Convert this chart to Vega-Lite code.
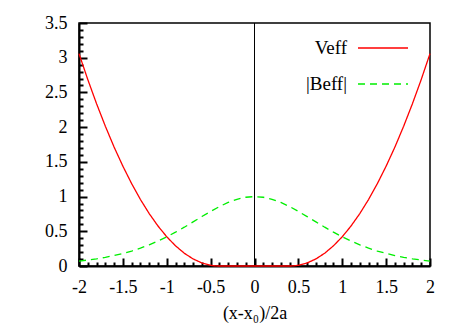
{
  "$schema": "https://vega.github.io/schema/vega-lite/v6.json",
  "autosize": "none",
  "width": 351,
  "height": 243,
  "padding": {"left": 79, "top": 23, "right": 33, "bottom": 58},
  "background": "white",
  "config": {
    "font": "Liberation Serif",
    "view": {"stroke": "black", "strokeWidth": 1.5},
    "axis": {"grid": false, "domainColor": "black", "domainWidth": 2, "tickColor": "black", "tickWidth": 2, "labelColor": "black", "labelFont": "Liberation Serif", "labelFontSize": 18, "titleFont": "Liberation Serif", "titleFontSize": 18, "titleFontWeight": "normal", "titleColor": "black"}
  },
  "datasets": {
    "curves": [
      {"x": -2.0, "y": 3.059, "series": "Veff"}, {"x": -1.9, "y": 2.686, "series": "Veff"}, {"x": -1.8, "y": 2.338, "series": "Veff"}, {"x": -1.7, "y": 2.014, "series": "Veff"}, {"x": -1.6, "y": 1.713, "series": "Veff"}, {"x": -1.5, "y": 1.438, "series": "Veff"}, {"x": -1.4, "y": 1.186, "series": "Veff"}, {"x": -1.3, "y": 0.958, "series": "Veff"}, {"x": -1.2, "y": 0.755, "series": "Veff"}, {"x": -1.1, "y": 0.576, "series": "Veff"}, {"x": -1.0, "y": 0.421, "series": "Veff"}, {"x": -0.9, "y": 0.291, "series": "Veff"}, {"x": -0.8, "y": 0.184, "series": "Veff"}, {"x": -0.7, "y": 0.102, "series": "Veff"}, {"x": -0.6, "y": 0.044, "series": "Veff"}, {"x": -0.5, "y": 0.010, "series": "Veff"}, {"x": -0.45, "y": 0.002, "series": "Veff"}, {"x": -0.41, "y": 0.0, "series": "Veff"}, {"x": 0.0, "y": 0.0, "series": "Veff"}, {"x": 0.41, "y": 0.0, "series": "Veff"}, {"x": 0.45, "y": 0.002, "series": "Veff"}, {"x": 0.5, "y": 0.010, "series": "Veff"}, {"x": 0.6, "y": 0.044, "series": "Veff"}, {"x": 0.7, "y": 0.102, "series": "Veff"}, {"x": 0.8, "y": 0.184, "series": "Veff"}, {"x": 0.9, "y": 0.291, "series": "Veff"}, {"x": 1.0, "y": 0.421, "series": "Veff"}, {"x": 1.1, "y": 0.576, "series": "Veff"}, {"x": 1.2, "y": 0.755, "series": "Veff"}, {"x": 1.3, "y": 0.958, "series": "Veff"}, {"x": 1.4, "y": 1.186, "series": "Veff"}, {"x": 1.5, "y": 1.438, "series": "Veff"}, {"x": 1.6, "y": 1.713, "series": "Veff"}, {"x": 1.7, "y": 2.014, "series": "Veff"}, {"x": 1.8, "y": 2.338, "series": "Veff"}, {"x": 1.9, "y": 2.686, "series": "Veff"}, {"x": 2.0, "y": 3.059, "series": "Veff"},
      {"x": -2.0, "y": 0.071, "series": "|Beff|"}, {"x": -1.9, "y": 0.086, "series": "|Beff|"}, {"x": -1.8, "y": 0.104, "series": "|Beff|"}, {"x": -1.7, "y": 0.125, "series": "|Beff|"}, {"x": -1.6, "y": 0.150, "series": "|Beff|"}, {"x": -1.5, "y": 0.181, "series": "|Beff|"}, {"x": -1.4, "y": 0.216, "series": "|Beff|"}, {"x": -1.3, "y": 0.257, "series": "|Beff|"}, {"x": -1.2, "y": 0.305, "series": "|Beff|"}, {"x": -1.1, "y": 0.359, "series": "|Beff|"}, {"x": -1.0, "y": 0.420, "series": "|Beff|"}, {"x": -0.9, "y": 0.487, "series": "|Beff|"}, {"x": -0.8, "y": 0.559, "series": "|Beff|"}, {"x": -0.7, "y": 0.635, "series": "|Beff|"}, {"x": -0.6, "y": 0.712, "series": "|Beff|"}, {"x": -0.5, "y": 0.786, "series": "|Beff|"}, {"x": -0.4, "y": 0.856, "series": "|Beff|"}, {"x": -0.3, "y": 0.915, "series": "|Beff|"}, {"x": -0.2, "y": 0.961, "series": "|Beff|"}, {"x": -0.1, "y": 0.990, "series": "|Beff|"}, {"x": 0.0, "y": 1.0, "series": "|Beff|"}, {"x": 0.1, "y": 0.990, "series": "|Beff|"}, {"x": 0.2, "y": 0.961, "series": "|Beff|"}, {"x": 0.3, "y": 0.915, "series": "|Beff|"}, {"x": 0.4, "y": 0.856, "series": "|Beff|"}, {"x": 0.5, "y": 0.786, "series": "|Beff|"}, {"x": 0.6, "y": 0.712, "series": "|Beff|"}, {"x": 0.7, "y": 0.635, "series": "|Beff|"}, {"x": 0.8, "y": 0.559, "series": "|Beff|"}, {"x": 0.9, "y": 0.487, "series": "|Beff|"}, {"x": 1.0, "y": 0.420, "series": "|Beff|"}, {"x": 1.1, "y": 0.359, "series": "|Beff|"}, {"x": 1.2, "y": 0.305, "series": "|Beff|"}, {"x": 1.3, "y": 0.257, "series": "|Beff|"}, {"x": 1.4, "y": 0.216, "series": "|Beff|"}, {"x": 1.5, "y": 0.181, "series": "|Beff|"}, {"x": 1.6, "y": 0.150, "series": "|Beff|"}, {"x": 1.7, "y": 0.125, "series": "|Beff|"}, {"x": 1.8, "y": 0.104, "series": "|Beff|"}, {"x": 1.9, "y": 0.086, "series": "|Beff|"}, {"x": 2.0, "y": 0.071, "series": "|Beff|"}
    ],
    "zeroline": [{"x": 0}]
  },
  "resolve": {"axis": {"x": "independent", "y": "independent"}},
  "layer": [
    {
      "data": {"name": "curves"},
      "mark": {"type": "line", "opacity": 0},
      "encoding": {
        "x": {"field": "x", "type": "quantitative", "scale": {"domain": [-2, 2], "nice": false, "zero": false},
          "axis": {"orient": "bottom", "values": [-1.9,-1.8,-1.7,-1.6,-1.4,-1.3,-1.2,-1.1,-0.9,-0.8,-0.7,-0.6,-0.4,-0.3,-0.2,-0.1,0.1,0.2,0.3,0.4,0.6,0.7,0.8,0.9,1.1,1.2,1.3,1.4,1.6,1.7,1.8,1.9], "labels": false, "domain": false, "tickSize": -4, "title": null}},
        "y": {"field": "y", "type": "quantitative", "scale": {"domain": [0, 3.5], "nice": false},
          "axis": {"orient": "left", "values": [0.1,0.2,0.3,0.4,0.6,0.7,0.8,0.9,1.1,1.2,1.3,1.4,1.6,1.7,1.8,1.9,2.1,2.2,2.3,2.4,2.6,2.7,2.8,2.9,3.1,3.2,3.3,3.4], "labels": false, "domain": false, "tickSize": -4, "title": null}},
        "detail": {"field": "series"}
      }
    },
    {
      "data": {"name": "zeroline"},
      "mark": {"type": "rule", "color": "black", "strokeWidth": 1},
      "encoding": {"x": {"field": "x", "type": "quantitative", "axis": null}}
    },
    {
      "data": {"name": "curves"},
      "mark": {"type": "line", "strokeWidth": 1.3},
      "encoding": {
        "x": {"field": "x", "type": "quantitative",
          "axis": {"orient": "bottom", "values": [-2,-1.5,-1,-0.5,0,0.5,1,1.5,2], "labelExpr": "'' + datum.value", "tickSize": -8, "labelPadding": 20, "title": "(x-x₀)/2a", "titlePadding": 8, "labelFlush": false}},
        "y": {"field": "y", "type": "quantitative",
          "axis": {"orient": "left", "values": [0,0.5,1,1.5,2,2.5,3,3.5], "labelExpr": "'' + datum.value", "tickSize": -8, "labelPadding": 20, "title": null, "labelFlush": false}},
        "color": {"field": "series", "type": "nominal", "sort": ["Veff", "|Beff|"],
          "scale": {"domain": ["Veff", "|Beff|"], "range": ["#ff0000", "#00ee00"]},
          "legend": {"title": null, "orient": "none", "legendX": 278, "legendY": -1, "padding": 0, "symbolType": "stroke", "symbolSize": 2500, "symbolStrokeWidth": 1.5, "labelAlign": "right", "labelOffset": -62, "labelFontSize": 19, "labelFont": "Liberation Serif", "labelColor": "black", "rowPadding": -12, "labelLimit": 200}},
        "strokeDash": {"field": "series", "type": "nominal", "sort": ["Veff", "|Beff|"],
          "scale": {"domain": ["Veff", "|Beff|"], "range": [[1, 0], [7, 5]]},
          "legend": {"title": null, "orient": "none", "legendX": 278, "legendY": -1, "padding": 0, "symbolType": "stroke", "symbolSize": 2500, "symbolStrokeWidth": 1.5, "labelAlign": "right", "labelOffset": -62, "labelFontSize": 19, "labelFont": "Liberation Serif", "labelColor": "black", "rowPadding": -12, "labelLimit": 200}}
      }
    }
  ]
}
